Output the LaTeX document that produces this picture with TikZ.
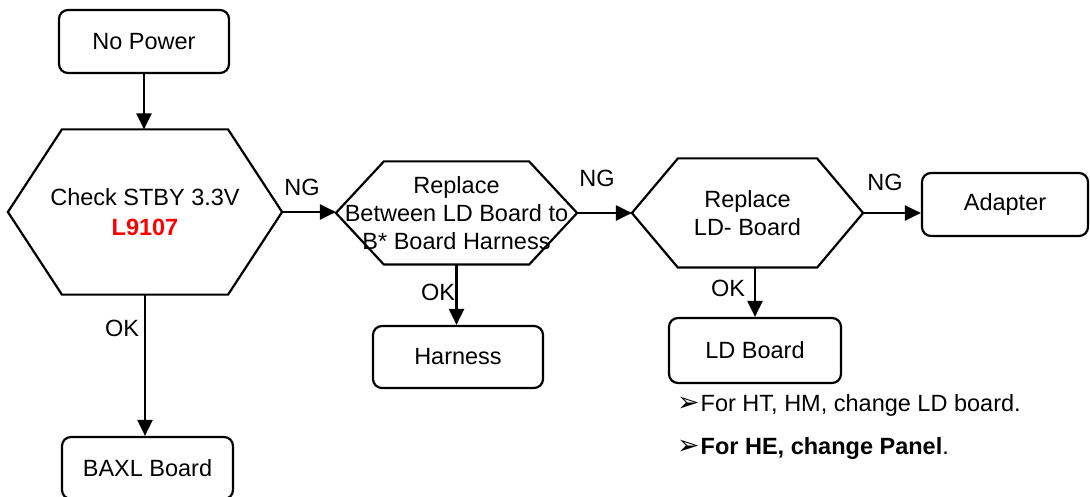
\documentclass[tikz,border=0pt]{standalone}
\usepackage{fontspec}
\setmainfont{Liberation Sans}
\newfontfamily\dvfont{DejaVu Sans}
\usetikzlibrary{arrows.meta,calc}
\begin{document}
\begin{tikzpicture}[x=1pt,y=-1pt,
  line width=2.2pt,
  every node/.style={font=\fontsize{23.5}{28}\selectfont, inner sep=0pt},
  box/.style={draw, rounded corners=9pt, align=center},
  hexa/.style={align=center},
  lbl/.style={},
  conn/.style={-{Triangle[length=16pt,width=15pt]}}]
\useasboundingbox (0,0) rectangle (1090,497);
\clip (0,0) rectangle (1090,497);

% boxes
\node[box, minimum width=170pt, minimum height=63pt] (np) at (144,41.5) {No Power};
\node[box, minimum width=171pt, minimum height=62pt] (bx) at (147.5,468) {BAXL Board};
\node[box, minimum width=170pt, minimum height=62pt] (hn) at (458,357) {Harness};
\node[box, minimum width=172pt, minimum height=65pt] (ld) at (755,350.5) {LD Board};
\node[box, minimum width=166pt, minimum height=63pt] (ad) at (1005,204.5) {Adapter};

% hexagons
\node[hexa, minimum width=272pt, minimum height=163pt] (h1) at (145,212) {Check STBY 3.3V\\[2pt]\textcolor{red}{\bfseries L9107}};
\draw ($(h1.west)$) -- ($(h1.north west)+(54,0)$) -- ($(h1.north east)+(-54,0)$) -- (h1.east) -- ($(h1.south east)+(-54,0)$) -- ($(h1.south west)+(54,0)$) -- cycle;

\node[hexa, minimum width=239pt, minimum height=101pt] (h2) at (456.5,213) {Replace\\Between LD Board to\\B* Board Harness};
\draw (h2.west) -- ($(h2.north west)+(48,0)$) -- ($(h2.north east)+(-48,0)$) -- (h2.east) -- ($(h2.south east)+(-48,0)$) -- ($(h2.south west)+(48,0)$) -- cycle;

\node[hexa, minimum width=229pt, minimum height=107pt] (h3) at (747.5,213) {Replace\\LD- Board};
\draw (h3.west) -- ($(h3.north west)+(46,0)$) -- ($(h3.north east)+(-46,0)$) -- (h3.east) -- ($(h3.south east)+(-46,0)$) -- ($(h3.south west)+(46,0)$) -- cycle;

% connectors
\draw[conn] (np.south) -- (np.south |- h1.north);
\draw[conn] (h1.south) -- (h1.south |- bx.north);
\draw[conn] (h1.east) -- (h1.east -| h2.west);
\draw[conn] (h2.east) -- (h3.west);
\draw[conn] (h3.east) -- (h3.east -| ad.west);
\draw[conn] (h2.south) -- (h2.south |- hn.north);
\draw[conn] (ld.north |- h3.south) -- (ld.north);

% labels
\node[lbl] (ng1) at (302,187) {NG};
\node[lbl] (ng2) at (597,178) {NG};
\node[lbl] (ng3) at (885,182) {NG};
\node[lbl] (ok1) at (122,328) {OK};
\node[lbl] (ok2) at (438,292) {OK};
\node[lbl] (ok3) at (728,288) {OK};

% notes
\node[anchor=west] (n1) at (676,405) {{\dvfont\fontsize{27}{28}\selectfont ➢}\hspace{1pt}For HT, HM, change LD board.};
\node[anchor=west] (n2) at (676,448) {{\dvfont\fontsize{27}{28}\selectfont ➢}\hspace{1pt}\textbf{For HE, change Panel}.};
\end{tikzpicture}
\end{document}
